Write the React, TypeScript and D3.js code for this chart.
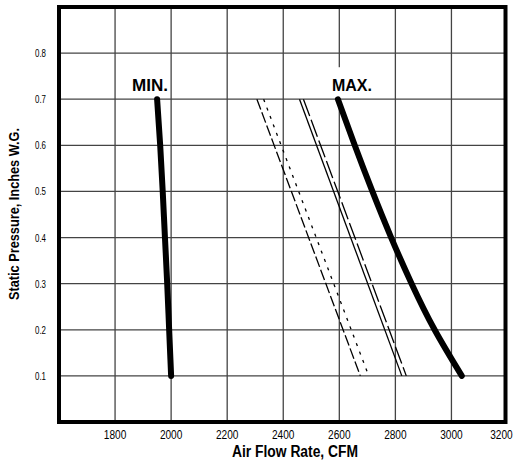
import React from 'react';
import * as d3 from 'd3';

// static pressure (in. W.G.) where the curves were read
const pressure = [0.7, 0.6, 0.5, 0.4, 0.3, 0.2, 0.1];
// air flow (CFM) for the MIN and MAX settings
const minCfm = [1950, 1961, 1970, 1978, 1986, 1993, 2000];
const maxCfm = [2595, 2655, 2718, 2785, 2858, 2940, 3037];

// thin straight reference lines, from 0.7 down to 0.1
const linePressure = [0.7, 0.1];
const longDashCfm = [2306, 2675];
const shortDashCfm = [2330, 2705];
const solidCfm = [2458, 2823];
const longDash2Cfm = [2472, 2839];

const xTicks = [1800, 2000, 2200, 2400, 2600, 2800, 3000, 3200];
const yTicks = [0.1, 0.2, 0.3, 0.4, 0.5, 0.6, 0.7, 0.8];

// narrow-looking type: Liberation Sans squeezed with textLength
const FONT = "'Liberation Sans', Arial, sans-serif";

export default function App() {
  const width = 517;
  const height = 470;

  const x = d3.scaleLinear().domain([1600, 3200]).range([59, 507.5]);
  const y = d3.scaleLinear().domain([0, 0.9]).range([422, 7]);

  const line = d3
    .line<[number, number]>()
    .x((d) => x(d[0]))
    .y((d) => y(d[1]))
    .curve(d3.curveNatural);

  const pts = (cfm: number[], p: number[]) => cfm.map((c, i) => [c, p[i]] as [number, number]);

  const thin = [
    { cfm: longDashCfm, dash: '11,3' },
    { cfm: shortDashCfm, dash: '3,6' },
    { cfm: solidCfm, dash: 'none' },
    { cfm: longDash2Cfm, dash: '18,4' },
  ];

  const left = x(1600);
  const right = x(3200) - 2;
  const top = y(0.9);
  const bottom = y(0);

  return (
    <svg width={width} height={height} style={{ position: 'absolute', left: 0, top: 0 }}>
      <rect width={width} height={height} fill="#fff" />

      {/* grid */}
      {xTicks.slice(0, -1).map((t) => (
        <line key={'gx' + t} x1={x(t)} x2={x(t)} y1={top} y2={bottom} stroke="#444" strokeWidth={1.3} />
      ))}
      {yTicks.map((t) => (
        <line key={'gy' + t} x1={left} x2={right} y1={y(t)} y2={y(t)} stroke="#444" strokeWidth={1.3} />
      ))}

      {/* frame */}
      <rect x={left} y={top} width={right - left} height={bottom - top} fill="none" stroke="#000" strokeWidth={4} />

      {/* tick labels */}
      {xTicks.map((t) => (
        <text
          key={'tx' + t}
          x={t === 3200 ? x(t) - 6 : x(t)}
          y={438.5}
          textAnchor="middle"
          fontFamily={FONT}
          fontSize={12}
          textLength={22.5}
          lengthAdjust="spacingAndGlyphs"
          fill="#000"
        >
          {t}
        </text>
      ))}
      {yTicks.map((t) => (
        <text
          key={'ty' + t}
          x={46}
          y={y(t) + 4}
          textAnchor="end"
          fontFamily={FONT}
          fontSize={11.5}
          textLength={11}
          lengthAdjust="spacingAndGlyphs"
          fill="#000"
        >
          {t.toFixed(1)}
        </text>
      ))}

      {/* axis titles */}
      <text
        x={295}
        y={456.5}
        textAnchor="middle"
        fontFamily={FONT}
        fontSize={16}
        fontWeight="bold"
        textLength={126}
        lengthAdjust="spacingAndGlyphs"
      >
        Air Flow Rate, CFM
      </text>
      <text
        transform={`translate(19, 214) rotate(-90)`}
        textAnchor="middle"
        fontFamily={FONT}
        fontSize={14.5}
        fontWeight="bold"
        textLength={172}
        lengthAdjust="spacingAndGlyphs"
      >
        Static Pressure, Inches W.G.
      </text>

      {/* thin reference lines */}
      {thin.map((l, i) => (
        <path
          key={'thin' + i}
          d={line(pts(l.cfm, linePressure)) || ''}
          fill="none"
          stroke="#000"
          strokeWidth={1.3}
          strokeDasharray={l.dash}
        />
      ))}

      {/* MAX label with white backing */}
      <rect x={x(maxCfm[0]) - 8} y={y(0.7) - 32} width={44} height={30} fill="#fff" />
      <text
        x={x(maxCfm[0]) + 14}
        y={y(0.7) - 8}
        textAnchor="middle"
        fontFamily={FONT}
        fontSize={16.5}
        fontWeight="bold"
        textLength={40}
        lengthAdjust="spacingAndGlyphs"
      >
        MAX.
      </text>
      <text
        x={x(minCfm[0]) - 7}
        y={y(0.7) - 8}
        textAnchor="middle"
        fontFamily={FONT}
        fontSize={16.5}
        fontWeight="bold"
        textLength={36}
        lengthAdjust="spacingAndGlyphs"
      >
        MIN.
      </text>

      {/* thick curves */}
      <path d={line(pts(minCfm, pressure)) || ''} fill="none" stroke="#000" strokeWidth={6} strokeLinecap="round" />
      <path d={line(pts(maxCfm, pressure)) || ''} fill="none" stroke="#000" strokeWidth={6} strokeLinecap="round" />
    </svg>
  );
}
